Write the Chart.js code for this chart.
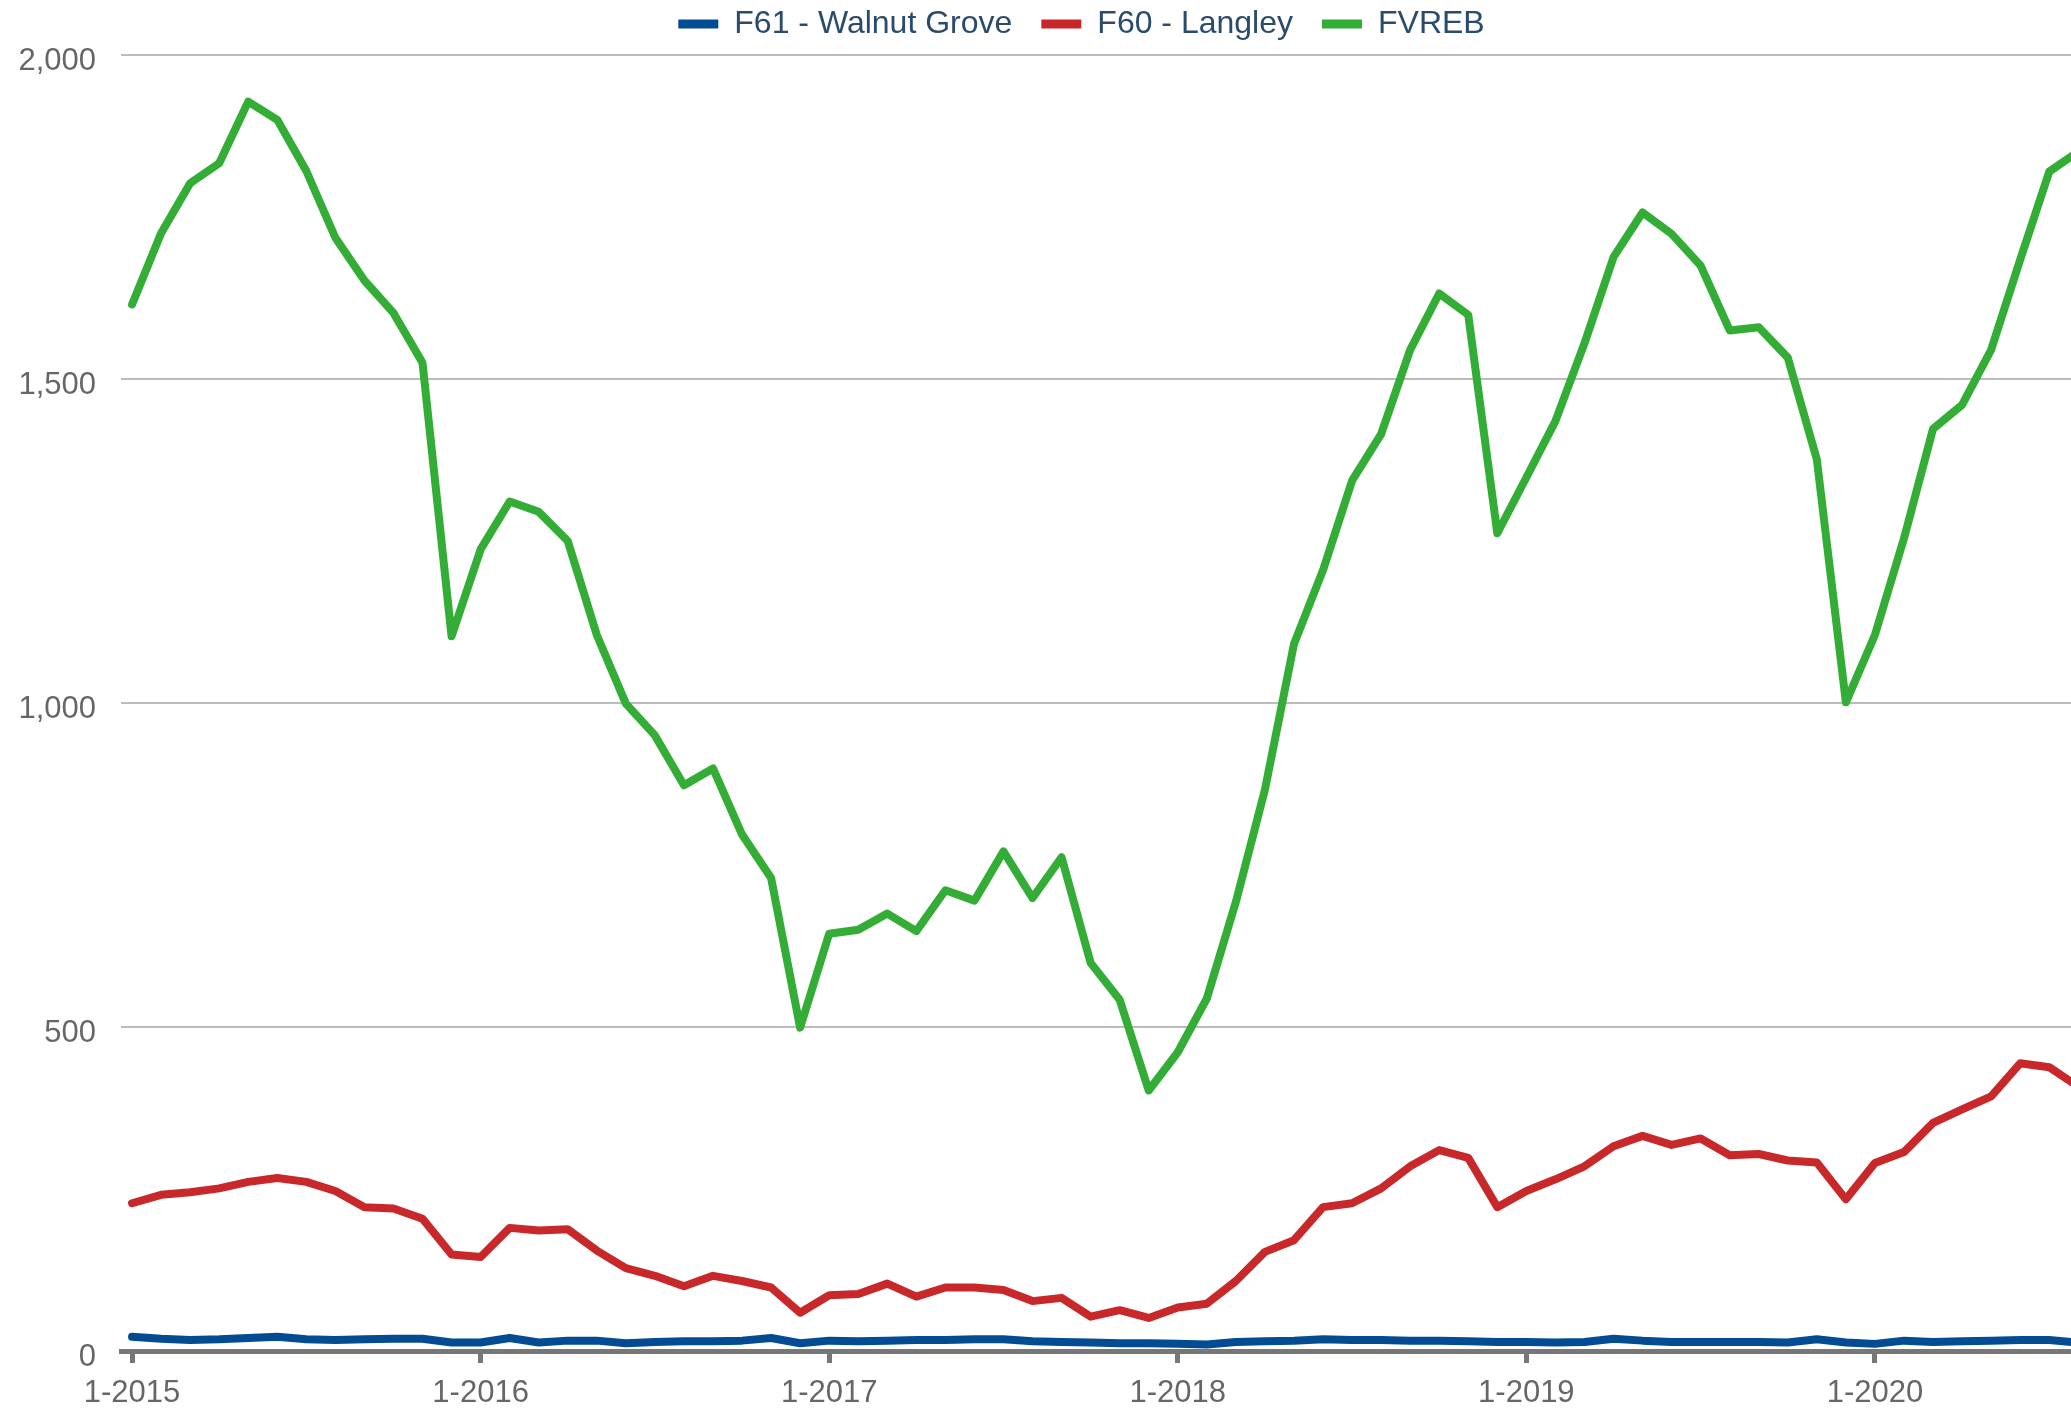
<!DOCTYPE html>
<html>
<head>
<meta charset="utf-8">
<title>Active listings</title>
<script src="https://cdn.jsdelivr.net/npm/chart.js@4.4.1/dist/chart.umd.min.js"></script>
<style>
  html, body { margin: 0; padding: 0; background: #fff; overflow: hidden; }
  #wrap { width: 2071px; height: 1409px; }
</style>
</head>
<body>
<div id="wrap"><canvas id="listingsChart"></canvas></div>
<script>
// monthly values, Jan 2015 onwards
const yearLabels = ['1-2015', '1-2016', '1-2017', '1-2018', '1-2019', '1-2020'];
const yTicks = [0, 500, 1000, 1500, 2000];
const seriesNames = ['F61 - Walnut Grove', 'F60 - Langley', 'FVREB'];
const seriesColors = ['#034c94', '#c9282b', '#33ad36'];

const walnutGrove = [
  22, 19, 17, 18, 20, 22, 18, 17, 18, 19, 19, 13,
  13, 20, 13, 16, 16, 12, 14, 15, 15, 16, 20, 12,
  16, 15, 16, 17, 17, 18, 18, 15, 14, 13, 12, 12,
  11, 10, 14, 15, 16, 18, 17, 17, 16, 16, 15, 14,
  14, 13, 14, 19, 16, 14, 14, 14, 14, 13, 18, 13,
  11, 16, 14, 15, 16, 17, 17, 13
];
const langley = [
  228, 241, 245, 251, 261, 267, 261, 247, 222, 220, 204, 149,
  145, 190, 186, 188, 155, 128, 116, 100, 116, 108, 98, 59,
  86, 88, 104, 84, 98, 98, 94, 77, 82, 53, 63, 51,
  67, 73, 108, 153, 171, 222, 228, 251, 285, 310, 298, 222,
  247, 265, 285, 316, 332, 318, 328, 302, 304, 294, 291, 234,
  290, 307, 352, 373, 393, 444, 438, 408
];
const fvreb = [
  1615, 1725, 1802, 1833, 1928, 1900, 1821, 1718, 1652, 1602, 1525, 1103,
  1237, 1311, 1295, 1250, 1105, 999, 950, 873, 899, 797, 730, 499,
  644, 650, 675, 648, 711, 695, 771, 699, 762, 599, 542, 402,
  461, 544, 693, 866, 1091, 1205, 1343, 1415, 1545, 1632, 1599, 1262,
  1348, 1435, 1555, 1688, 1757, 1724, 1675, 1575, 1580, 1533, 1376, 1001,
  1105, 1254, 1423, 1460, 1545, 1684, 1820, 1851
];

const FONT = "'Liberation Sans', Arial, sans-serif";

function toPoints(values) {
  return values.map((v, i) => ({ x: i, y: v }));
}

const datasets = [walnutGrove, langley, fvreb].map((values, i) => ({
  label: seriesNames[i],
  data: toPoints(values),
  borderColor: seriesColors[i],
  backgroundColor: seriesColors[i],
  borderWidth: 8,
  borderJoinStyle: 'round',
  borderCapStyle: 'round',
  pointRadius: 0,
  tension: 0
}));

// legend sits a little right of centre and higher than its default slot
const legendNudge = {
  id: 'legendNudge',
  afterLayout(chart) {
    const lg = chart.legend;
    if (!lg) return;
    lg.left += 37;
    lg.right += 37;
    lg.top -= 5;
    lg.bottom -= 5;
  }
};

new Chart(document.getElementById('listingsChart'), {
  type: 'line',
  data: { datasets },
  options: {
    responsive: true,
    maintainAspectRatio: false,
    animation: false,
    layout: { padding: { left: 18, top: -16, right: 0, bottom: 0 } },
    plugins: {
      legend: {
        position: 'top',
        labels: {
          boxWidth: 40,
          boxHeight: 9,
          padding: 29,
          color: '#2b4b6c',
          font: { family: FONT, size: 32 },
          generateLabels(chart) {
            return Chart.defaults.plugins.legend.labels.generateLabels(chart)
              .map(item => ({ ...item, lineWidth: 0 }));
          }
        }
      },
      tooltip: { enabled: false }
    },
    scales: {
      x: {
        type: 'linear',
        min: -0.38,
        max: 66.75,
        afterBuildTicks(scale) {
          scale.ticks = yearLabels.map((_, i) => ({ value: i * 12 }));
        },
        afterFit(scale) {
          scale.height = 58;
        },
        ticks: {
          callback: (v) => yearLabels[Math.round(v / 12)],
          color: '#666',
          font: { family: FONT, size: 31 },
          padding: 12,
          maxRotation: 0,
          autoSkip: false
        },
        grid: { drawOnChartArea: false, drawTicks: true, tickLength: 12, color: '#777', lineWidth: 5 },
        border: { display: true, color: '#777', width: 5 }
      },
      y: {
        min: 0,
        max: 2000,
        afterBuildTicks(scale) {
          scale.ticks = yTicks.map(v => ({ value: v }));
        },
        afterFit(scale) {
          scale.width = 103;
        },
        ticks: {
          callback: (v) => v.toLocaleString('en-US'),
          color: '#666',
          font: { family: FONT, size: 31 },
          padding: 25,
          labelOffset: 6
        },
        grid: {
          color: (ctx) => (ctx.tick && ctx.tick.value === 0 ? 'rgba(0,0,0,0)' : '#bcbcbc'),
          lineWidth: 2,
          drawTicks: false
        },
        border: { display: false }
      }
    }
  },
  plugins: [legendNudge]
});
</script>
</body>
</html>
